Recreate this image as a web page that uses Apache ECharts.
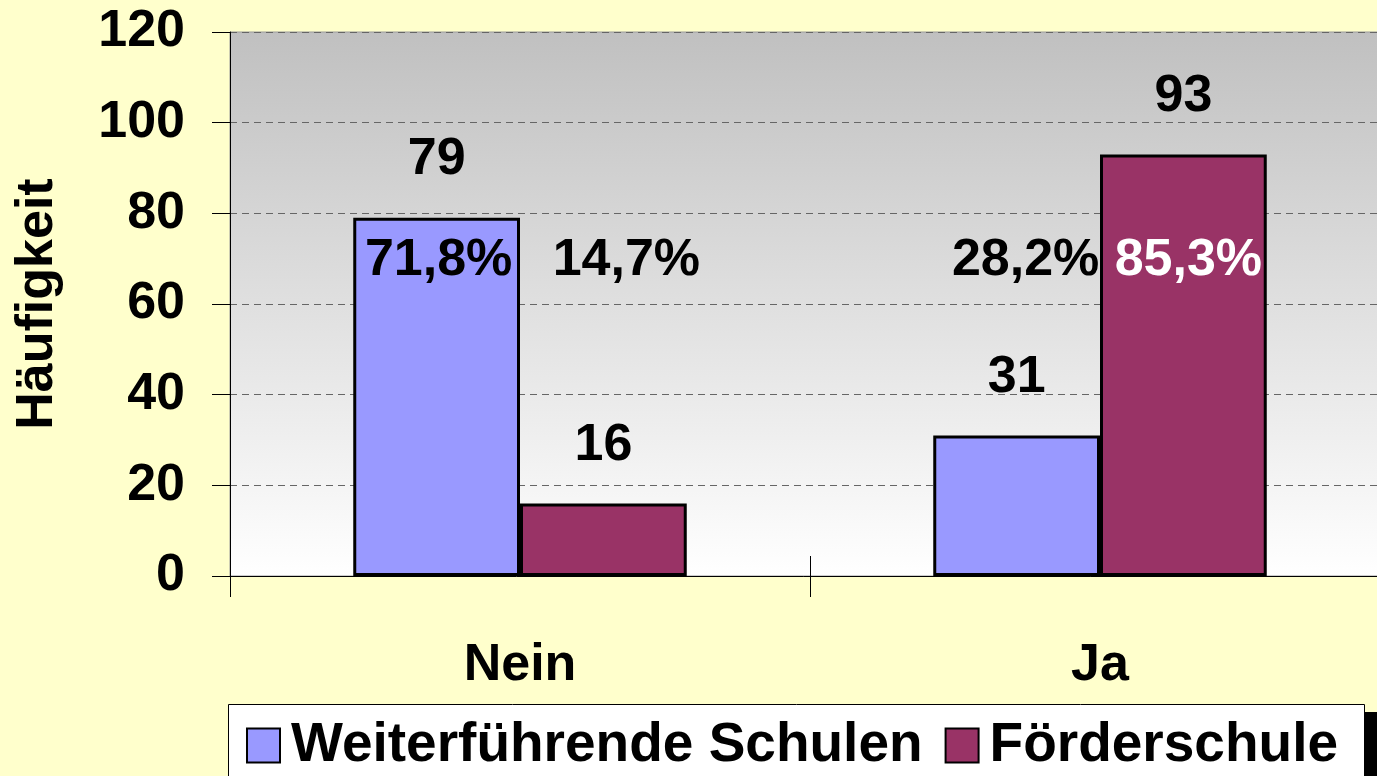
<!DOCTYPE html>
<html>
<head>
<meta charset="utf-8">
<script src="https://cdn.jsdelivr.net/npm/echarts@6/dist/echarts.min.js"></script>
<style>
html,body{margin:0;padding:0;background:#FFFFCC;overflow:hidden;}
#chart{width:1377px;height:776px;}
</style>
</head>
<body>
<div id="chart"></div>
<script>
const categories = ['Nein', 'Ja'];
const seriesNames = ['Weiterführende Schulen', 'Förderschule'];
const weiterValues = [79, 31];
const foerderValues = [16, 93];
const weiterPct = ['71,8%', '28,2%'];
const foerderPct = ['14,7%', '85,3%'];
const yTicks = [0, 20, 40, 60, 80, 100, 120];

const FONT = '"Liberation Sans", Arial, Helvetica, sans-serif';
const PCT_LEVEL = 69.5;            // height at which the percentage texts sit
const weiterPctOffsets = [2, 9];
const foerderPctOffsets = [23, 5];
const foerderPctColors = ['#000000', '#FFFFFF'];
const GAP = '42.5%';

const chart = echarts.init(document.getElementById('chart'), null, {renderer: 'canvas'});

const valueLabel = {
  show: true, position: 'top', distance: 58, verticalAlign: 'middle',
  fontFamily: FONT, fontWeight: 'bold', fontSize: 52, color: '#000'
};

function pctData(texts, offsets, colors) {
  return categories.map((c, i) => ({
    value: PCT_LEVEL,
    label: {
      formatter: texts[i],
      offset: [offsets[i], 0],
      color: colors ? colors[i] : '#000'
    }
  }));
}

const option = {
  backgroundColor: '#FFFFCC',
  animation: false,
  graphic: [
    {type: 'rect', z: 0, zlevel: 0, silent: true,
      shape: {x: 240, y: 712, width: 1137, height: 100},
      style: {fill: '#000'}},
    {type: 'rect', z: 0, zlevel: 0, silent: true,
      shape: {x: 228.5, y: 704.5, width: 1136, height: 100},
      style: {fill: '#FFFFFF', stroke: '#000', lineWidth: 1}}
  ],
  grid: {
    left: 230, top: 32, width: 1160, bottom: 200,
    outerBoundsMode: 'none',
    containLabel: false,
    show: true,
    borderColor: '#9a9a9a', borderWidth: 1,
    backgroundColor: {
      type: 'linear', x: 0, y: 0, x2: 0, y2: 1,
      colorStops: [{offset: 0, color: '#C0C0C0'}, {offset: 1, color: '#FFFFFF'}]
    }
  },
  legend: {
    data: seriesNames,
    left: 228, top: 704,
    orient: 'horizontal',
    icon: 'rect',
    itemWidth: 33, itemHeight: 34, itemGap: 22,
    padding: [14, 22, 30, 18],
    textStyle: {fontFamily: FONT, fontWeight: 'bold', fontSize: 55, color: '#000', padding: [0, 0, 0, 6]}
  },
  xAxis: [
    {
      type: 'category', data: categories,
      axisLine: {show: true, lineStyle: {color: '#000', width: 1}},
      axisTick: {show: true, inside: false, length: 21, lineStyle: {color: '#000', width: 1}},
      axisLabel: {fontFamily: FONT, fontWeight: 'bold', fontSize: 52, color: '#000', margin: 64},
      splitLine: {show: false}
    },
    {
      type: 'category', data: categories, position: 'bottom',
      axisLine: {show: false},
      axisTick: {show: true, inside: true, length: 20, lineStyle: {color: '#000', width: 1}},
      axisLabel: {show: false},
      splitLine: {show: false}
    }
  ],
  yAxis: {
    type: 'value', min: yTicks[0], max: yTicks[yTicks.length - 1], interval: yTicks[1] - yTicks[0],
    name: 'Häufigkeit', nameLocation: 'middle', nameGap: 166,
    nameTextStyle: {fontFamily: FONT, fontWeight: 'bold', fontSize: 52, color: '#000'},
    axisLine: {show: true, lineStyle: {color: '#000', width: 1}},
    axisTick: {show: true, inside: false, length: 18, lineStyle: {color: '#000', width: 1}},
    axisLabel: {fontFamily: FONT, fontWeight: 'bold', fontSize: 52, color: '#000', margin: 45},
    splitLine: {show: true, lineStyle: {color: '#666', width: 1, type: [7, 5]}}
  },
  series: [
    {
      name: seriesNames[0], type: 'bar', xAxisIndex: 0, data: weiterValues,
      barGap: '0%', barCategoryGap: GAP,
      itemStyle: {color: '#9999FF', borderColor: '#000', borderWidth: 3},
      label: valueLabel
    },
    {
      name: seriesNames[1], type: 'bar', xAxisIndex: 0, data: foerderValues,
      barGap: '0%', barCategoryGap: GAP,
      itemStyle: {color: '#993366', borderColor: '#000', borderWidth: 3},
      label: valueLabel
    },
    {
      name: 'pctWeiter', type: 'bar', xAxisIndex: 1, silent: true,
      barGap: '0%', barCategoryGap: GAP, z: 5,
      itemStyle: {color: 'rgba(0,0,0,0)', borderWidth: 0},
      label: {show: true, position: 'top', distance: 0, verticalAlign: 'middle',
        fontFamily: FONT, fontWeight: 'bold', fontSize: 52},
      data: pctData(weiterPct, weiterPctOffsets, null)
    },
    {
      name: 'pctFoerder', type: 'bar', xAxisIndex: 1, silent: true,
      barGap: '0%', barCategoryGap: GAP, z: 5,
      itemStyle: {color: 'rgba(0,0,0,0)', borderWidth: 0},
      label: {show: true, position: 'top', distance: 0, verticalAlign: 'middle',
        fontFamily: FONT, fontWeight: 'bold', fontSize: 52},
      data: pctData(foerderPct, foerderPctOffsets, foerderPctColors)
    }
  ]
};
chart.setOption(option);
</script>
</body>
</html>
